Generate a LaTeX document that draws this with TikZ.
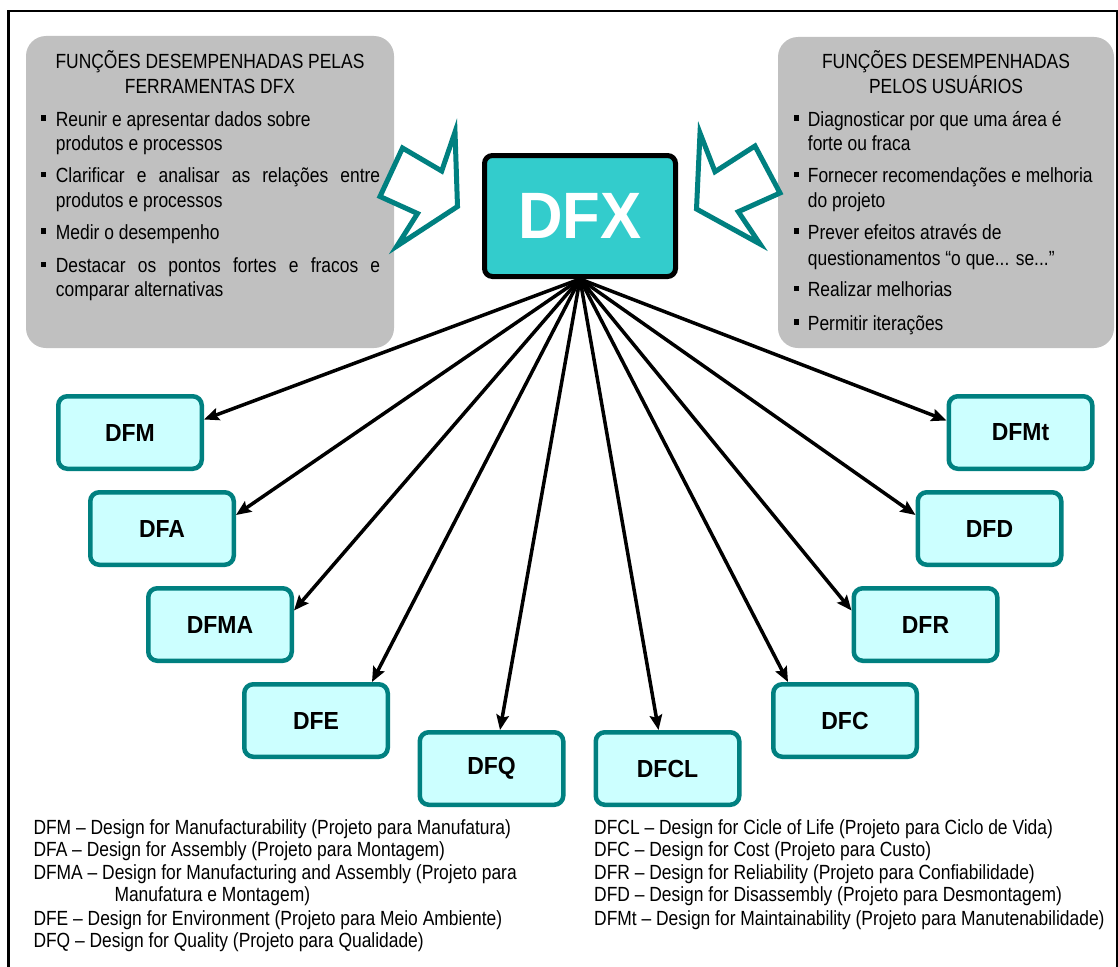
\documentclass[tikz,border=0pt]{standalone}
\usepackage{fontspec}
\setmainfont[FakeStretch=0.85]{Liberation Sans}
\newfontfamily\labfont[FakeStretch=0.93]{Liberation Sans}
\newfontfamily\dfxfont[FakeStretch=0.94]{Liberation Sans}
\usetikzlibrary{arrows.meta}
\definecolor{tealline}{HTML}{008080}
\definecolor{dfxfill}{HTML}{33CCCC}
\definecolor{boxfill}{HTML}{CCFFFF}
\definecolor{panelgray}{HTML}{C0C0C0}
% square bullet whose centre sits 8.2pt above the given baseline
\newcommand\sqbullet[2]{\fill (#1-2.75,#2-10.95) rectangle ++(5.5,5.5);}
\begin{document}
\begin{tikzpicture}[x=1pt,y=-1pt,
  panel/.style={fill=panelgray, rounded corners=20pt},
  ttl/.style={anchor=base, inner sep=0pt, font=\fontsize{20.5}{24}\selectfont},
  txt/.style={anchor=base west, inner sep=0pt, font=\fontsize{20.5}{24}\selectfont},
  hollowarrow/.style={draw=tealline, line width=5pt, fill=white, line join=miter},
  dfxbox/.style={draw=black, line width=5pt, fill=dfxfill, rounded corners=8pt,
    minimum width=191pt, minimum height=121pt, inner sep=0pt, text=white,
    font=\dfxfont\fontsize{65.6}{70}\selectfont\bfseries},
  toolbox/.style={draw=tealline, line width=4.5pt, fill=boxfill, rounded corners=9pt,
    minimum width=143.5pt, minimum height=72.5pt, inner sep=0pt,
    font=\labfont\fontsize{24.7}{28}\selectfont\bfseries},
  link/.style={line width=3.5pt, -{Stealth[length=15pt,width=12.5pt,inset=2.5pt]}},
]
\clip (0,0) rectangle (1118,966);
\fill[white] (0,0) rectangle (1118,966);

% outer frame
\draw[line width=2.2pt] (8.5,980) -- (8.5,11) -- (1117,11) -- (1117,980);

% grey panels
\fill[panel] (26,36) rectangle (394,348);
\fill[panel] (778,37) rectangle (1114,348);

% left panel text
\node[ttl] (lt1) at (210,69) {FUNÇÕES DESEMPENHADAS PELAS};
\node[ttl] (lt2) at (210,93.3) {FERRAMENTAS DFX};
\sqbullet{43.3}{126}
\node[txt] (l1a) at (55.7,126) {Reunir e apresentar dados sobre};
\node[txt] (l1b) at (55.7,150.7) {produtos e processos};
\sqbullet{43.3}{182.7}
\node[txt] (l2a) at (55.7,182.7) {\makebox[324.3pt][s]{Clarificar e analisar as relações entre}};
\node[txt] (l2b) at (55.7,207.3) {produtos e processos};
\sqbullet{43.3}{239.3}
\node[txt] (l3a) at (55.7,239.3) {Medir o desempenho};
\sqbullet{43.3}{272.7}
\node[txt] (l4a) at (55.7,272.7) {\makebox[324.3pt][s]{Destacar os pontos fortes e fracos e}};
\node[txt] (l4b) at (55.7,296.7) {comparar alternativas};

% right panel text
\node[ttl] (rt1) at (946,69) {FUNÇÕES DESEMPENHADAS};
\node[ttl] (rt2) at (946,93.3) {PELOS USUÁRIOS};
\sqbullet{796.7}{126}
\node[txt] (r1a) at (807.7,126) {Diagnosticar por que uma área é};
\node[txt] (r1b) at (807.7,150.7) {forte ou fraca};
\sqbullet{796.7}{182.7}
\node[txt] (r2a) at (807.7,182.7) {Fornecer recomendações e melhoria};
\node[txt] (r2b) at (807.7,207) {do projeto};
\sqbullet{796.7}{239}
\node[txt] (r3a) at (807.7,239) {Prever efeitos através de};
\node[txt] (r3b) at (807.7,265) {questionamentos “o que... se...”};
\sqbullet{796.7}{296.7}
\node[txt] (r4a) at (807.7,296.7) {Realizar melhorias};
\sqbullet{796.7}{330}
\node[txt] (r5a) at (807.7,330) {Permitir iterações};

% hollow block arrows pointing at the central box
\draw[hollowarrow] (402.5,148) -- (441.7,171) -- (455,132) -- (457.5,206.5)
  -- (397,246) -- (417.5,213.5) -- (380,196.5) -- cycle;
\draw[hollowarrow] (755,146) -- (715,171.7) -- (700,133) -- (696.5,209)
  -- (760,244) -- (738.3,211.7) -- (780,193) -- cycle;

% central box
\node[dfxbox] (dfx) at (580,216) {DFX};

% tool boxes
\node[toolbox] (dfm)  at (130,432.5)  {DFM};
\node[toolbox] (dfa)  at (162,528.5)  {DFA};
\node[toolbox] (dfma) at (220,624.5)  {DFMA};
\node[toolbox] (dfe)  at (316,720.5)  {DFE};
\node[toolbox] (dfq)  at (491.5,768.5) {DFQ};
\node[toolbox] (dfcl) at (667.5,768.5) {DFCL};
\node[toolbox] (dfc)  at (845,720.5)  {DFC};
\node[toolbox] (dfr)  at (925.5,624.5) {DFR};
\node[toolbox] (dfd)  at (989.5,528.5) {DFD};
\node[toolbox] (dfmt) at (1020.5,432.5) {DFMt};

% fan of connectors
\draw[link] (dfx.south) -- ([yshift=13pt]dfm.east);
\draw[link] (dfx.south) -- ([yshift=13.5pt]dfa.east);
\draw[link] (dfx.south) -- ([yshift=14pt]dfma.east);
\draw[link] (dfx.south) -- ([xshift=56pt]dfe.north);
\draw[link] (dfx.south) -- ([xshift=8.5pt]dfq.north);
\draw[link] (dfx.south) -- ([xshift=-9pt]dfcl.north);
\draw[link] (dfx.south) -- ([xshift=-57pt]dfc.north);
\draw[link] (dfx.south) -- ([yshift=14pt]dfr.west);
\draw[link] (dfx.south) -- ([yshift=13.5pt]dfd.west);
\draw[link] (dfx.south) -- ([yshift=12pt]dfmt.west);

% legend
\node[txt] (g1) at (33.3,834) {DFM – Design for Manufacturability (Projeto para Manufatura)};
\node[txt] (g2) at (33.3,856.5) {DFA – Design for Assembly (Projeto para Montagem)};
\node[txt] (g3) at (33.3,879.3) {DFMA – Design for Manufacturing and Assembly (Projeto para};
\node[txt] (g3b) at (114.3,901.7) {Manufatura e Montagem)};
\node[txt] (g4) at (33.3,925) {DFE – Design for Environment (Projeto para Meio Ambiente)};
\node[txt] (g5) at (33.3,947) {DFQ – Design for Quality (Projeto para Qualidade)};
\node[txt] (h1) at (594,834) {DFCL – Design for Cicle of Life (Projeto para Ciclo de Vida)};
\node[txt] (h2) at (594,856.5) {DFC – Design for Cost (Projeto para Custo)};
\node[txt] (h3) at (594,879.3) {DFR – Design for Reliability (Projeto para Confiabilidade)};
\node[txt] (h4) at (594,901.7) {DFD – Design for Disassembly (Projeto para Desmontagem)};
\node[txt] (h5) at (594,925) {DFMt – Design for Maintainability (Projeto para Manutenabilidade)};
\end{tikzpicture}
\end{document}
